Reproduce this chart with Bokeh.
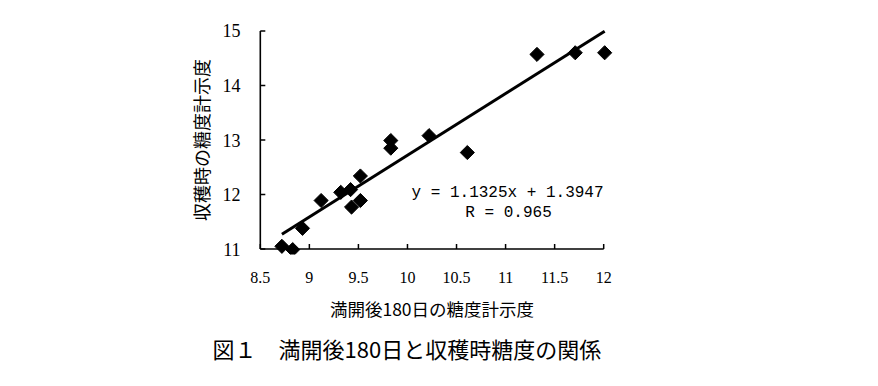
import numpy as np
from bokeh.plotting import figure
from bokeh.models import FixedTicker, Label, Range1d, Title
from bokeh.embed import file_html
from bokeh.resources import INLINE

# data
x_vals = [8.72, 8.83, 8.93, 9.12, 9.32, 9.42, 9.43, 9.52, 9.52, 9.83, 9.83, 10.22, 10.61, 11.32, 11.71, 12.01]
y_vals = [11.05, 10.99, 11.38, 11.89, 12.04, 12.09, 11.77, 12.34, 11.89, 12.99, 12.85, 13.08, 12.77, 14.57, 14.60, 14.60]
slope = 1.1325
intercept = 1.3947
x_ticks = [8.5, 9, 9.5, 10, 10.5, 11, 11.5, 12]
y_ticks = [11, 12, 13, 14, 15]
eq_text = "y = 1.1325x + 1.3947"
r_text = "R = 0.965"
x_label = "満開後180日の糖度計示度"
y_label = "収穫時の糖度計示度"
caption = "図１　満開後180日と収穫時糖度の関係"

p = figure(width=862, height=370, output_backend="svg", toolbar_location=None,
           x_range=Range1d(8.4, 12.1), y_range=Range1d(10.9, 15.1),
           min_border_left=250, min_border_right=249, min_border_top=25, min_border_bottom=113)
p.outline_line_color = None
p.grid.visible = False
p.background_fill_color = "white"
p.border_fill_color = "white"

x0, x1 = x_ticks[0], x_ticks[-1]
y0, y1 = y_ticks[0], y_ticks[-1]
axis_col = "black"
# axis lines drawn at x = 8.5 and y = 11
p.line([x0, x1], [y0, y0], line_color=axis_col, line_width=1.6)
p.line([x0, x0], [y0, y1], line_color=axis_col, line_width=1.6)
# inward ticks
p.ray(x=x_ticks, y=[y0] * len(x_ticks), length=5, length_units="screen", angle=np.pi / 2,
      line_color=axis_col, line_width=1.5)
p.ray(x=[x0] * len(y_ticks), y=y_ticks, length=5, length_units="screen", angle=0,
      line_color=axis_col, line_width=1.5)

# regression line from the min/max of the data
lx = np.array([min(x_vals), max(x_vals)])
p.line(lx, slope * lx + intercept, line_color="black", line_width=3)
p.scatter(x_vals, y_vals, marker="square", angle=np.pi / 4, size=10,
          fill_color="black", line_color="black")

xa = p.xaxis[0]
ya = p.yaxis[0]
xa.ticker = FixedTicker(ticks=x_ticks)
ya.ticker = FixedTicker(ticks=y_ticks)
for ax in (xa, ya):
    ax.axis_line_color = None
    ax.major_tick_line_color = None
    ax.minor_tick_line_color = None
    ax.major_label_text_font = "Liberation Serif"
    ax.major_label_text_color = "black"
    ax.axis_label_text_font = "Noto Sans CJK JP"
    ax.axis_label_text_font_style = "normal"
    ax.axis_label_text_color = "black"
xa.major_label_text_font_size = "16px"
ya.major_label_text_font_size = "18px"
xa.major_label_standoff = 11
ya.major_label_standoff = 4
xa.axis_label = x_label
ya.axis_label = y_label
xa.axis_label_text_font_size = "17.5px"
ya.axis_label_text_font_size = "18px"
xa.axis_label_standoff = 10
ya.axis_label_standoff = 6

p.add_layout(Label(x=11.02, y=12.03, text=eq_text, text_align="center", text_baseline="middle",
                   text_font="Liberation Mono", text_font_size="16px", text_color="black"))
p.add_layout(Label(x=11.03, y=11.66, text=r_text, text_align="center", text_baseline="middle",
                   text_font="Liberation Mono", text_font_size="16px", text_color="black"))

p.add_layout(Title(text=caption, align="left", offset=-38, standoff=13,
                   text_font="Noto Sans CJK JP", text_font_size="22px",
                   text_font_style="normal", text_color="black"), "below")

open("out.html", "w").write(file_html(p, INLINE))
